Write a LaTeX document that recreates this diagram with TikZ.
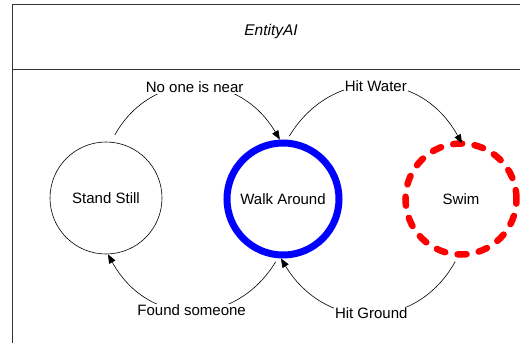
\documentclass[tikz,border=0pt]{standalone}
\usepackage{fontspec}
\setmainfont{Liberation Sans}
\usetikzlibrary{arrows.meta}
\begin{document}
\begin{tikzpicture}[x=1pt,y=-1pt,
  state/.style={circle,draw,inner sep=0pt,minimum size=112pt,font=\fontsize{15}{18}\selectfont},
  lbl/.style={fill=white,inner sep=1pt,font=\fontsize{15}{18}\selectfont},
  trans/.style={draw=black,line width=0.6pt,-{Triangle[length=9pt,width=7pt]}},
  frame/.style={line width=0.8pt,draw=black!80},
  bendarc/.style={bend left=60, looseness=1.25},
]
\useasboundingbox (0,0) rectangle (520,343);
\clip (0,0) rectangle (520,343);
\draw[frame] (12,360) -- (12,4) -- (540,4) (12,69) -- (540,69);
\node[font=\itshape\fontsize{15.5}{18}\selectfont] (title) at (271,31) {EntityAI};
\node[state, line width=0.6pt] (ss) at (106,198) {Stand Still};
\node[state, draw=blue, line width=7pt] (wa) at (283,199) {Walk Around};
\node[state, draw=red, line width=6.5pt, line cap=round, dash pattern=on 9pt off 12.5pt, outer sep=0pt, minimum size=111pt] (sw) at (461,199) {Swim};

\draw[trans, shorten <=8pt] (ss.85) to[bendarc] node[lbl] {No one is near} (wa.93);
\draw[trans, shorten <=4pt] (wa.86) to[bendarc] node[lbl] {Hit Water} (sw.89);
\draw[trans, shorten <=4pt] (wa.265) to[bendarc] node[lbl] {Found someone} (ss.272);
\draw[trans, shorten <=8pt] (sw.268) to[bendarc] node[lbl] {Hit Ground} (wa.268);
\end{tikzpicture}
\end{document}
